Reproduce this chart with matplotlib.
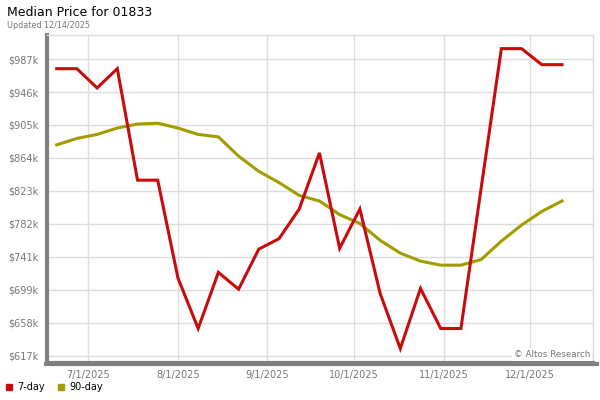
import numpy as np
import pandas as pd
import matplotlib
matplotlib.use("Agg")
import matplotlib.pyplot as plt
from matplotlib.lines import Line2D

# weekly data, values in $k
dates = ["2025-06-20", "2025-06-27", "2025-07-04", "2025-07-11", "2025-07-18",
         "2025-07-25", "2025-08-01", "2025-08-08", "2025-08-15", "2025-08-22",
         "2025-08-29", "2025-09-05", "2025-09-12", "2025-09-19", "2025-09-26",
         "2025-10-03", "2025-10-10", "2025-10-17", "2025-10-24", "2025-10-31",
         "2025-11-07", "2025-11-14", "2025-11-21", "2025-11-28", "2025-12-05",
         "2025-12-12"]
price_7day = [975, 975, 951, 975, 836, 836, 714, 651, 721, 700,
              750, 763, 800, 870, 751, 800, 695, 626, 701, 651,
              651, 826, 1000, 1000, 980, 980]
price_90day = [880, 888, 893, 901, 906, 907, 901, 893, 890, 866,
               847, 833, 817, 810, 793, 782, 761, 745, 735, 730,
               730, 737, 760, 780, 797, 810]
ytick_labels = ["$617k", "$658k", "$699k", "$741k", "$782k",
                "$823k", "$864k", "$905k", "$946k", "$987k"]
xtick_dates = ["2025-07-01", "2025-08-01", "2025-09-01", "2025-10-01",
               "2025-11-01", "2025-12-01"]
xtick_labels = ["7/1/2025", "8/1/2025", "9/1/2025", "10/1/2025",
                "11/1/2025", "12/1/2025"]

red = "#c80c0c"
olive = "#a29c00"
gray = "#777777"

x = pd.to_datetime(dates)

fig = plt.figure(figsize=(6, 4), dpi=100)
ax = fig.add_axes([0.078, 0.0925, 0.91, 0.82])

ax.plot(x, price_7day, color=red, lw=2.2, solid_joinstyle="miter", zorder=3)
ax.plot(x, price_90day, color=olive, lw=2.2, zorder=2)

ax.set_xlim(pd.Timestamp("2025-06-16 14:00"), pd.Timestamp("2025-12-22 16:00"))
ax.set_ylim(608, 1017)

ax.set_yticks(np.linspace(617, 987, 10))
ax.set_yticklabels(ytick_labels)
ax.set_xticks(pd.to_datetime(xtick_dates))
ax.set_xticklabels(xtick_labels)
ax.tick_params(axis="both", length=0, labelsize=7, labelcolor=gray, pad=5)
ax.tick_params(axis="y", pad=6)

ax.grid(True, color="#dddddd", lw=1)
ax.set_axisbelow(True)
for s in ["top", "right"]:
    ax.spines[s].set_color("#dddddd")
    ax.spines[s].set_linewidth(1)
for s in ["left", "bottom"]:
    ax.spines[s].set_color("#808080")
    ax.spines[s].set_linewidth(3)

# bottom shadow line reaching past the plot edge
fig.add_artist(Line2D([0.077, 0.995], [0.09, 0.09], color="#808080", lw=3,
                      transform=fig.transFigure))

ax.text(0.995, 0.025, "© Altos Research", transform=ax.transAxes, ha="right",
        va="center", fontsize=6.3, color=gray,
        bbox=dict(facecolor="white", edgecolor="none", pad=1.5))

fig.text(0.012, 0.968, "Median Price for 01833", fontsize=9, va="center")
fig.text(0.012, 0.937, "Updated 12/14/2025", fontsize=5.8, color=gray, va="center")

handles = [Line2D([], [], marker="s", ls="none", color=red, markersize=5),
           Line2D([], [], marker="s", ls="none", color=olive, markersize=5)]
fig.legend(handles, ["7-day", "90-day"], loc="lower left", ncol=2,
           bbox_to_anchor=(-0.01, -0.003), frameon=False, fontsize=7,
           handletextpad=0.3, columnspacing=1.0, handlelength=1.2)

fig.savefig("out.png", dpi=100)
